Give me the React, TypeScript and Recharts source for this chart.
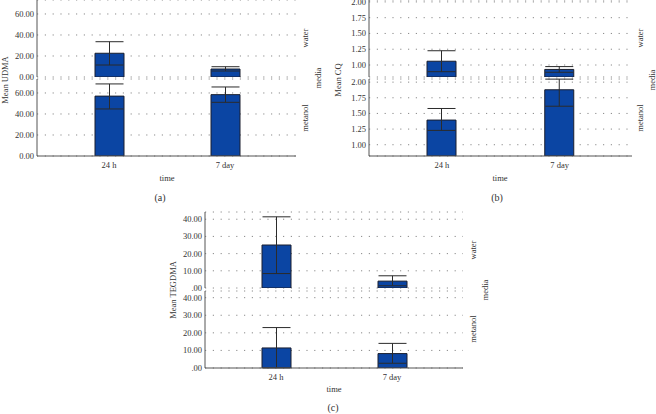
import React from 'react';
import { BarChart, Bar, XAxis, YAxis, CartesianGrid, ErrorBar } from 'recharts';

const CATEGORIES = ['24 h', '7 day'];

// UDMA (a)
const UDMA_WATER = [22.6, 7.6];
const UDMA_WATER_ERR = [[11.2, 11.0], [1.9, 2.2]];
const UDMA_METANOL = [57.0, 58.4];
const UDMA_METANOL_ERR = [[12.2, 11.6], [7.3, 7.3]];
const UDMA_TICKS = [0, 20, 40, 60];

// CQ (b)
const CQ_WATER = [1.06, 0.93];
const CQ_WATER_ERR = [[0.166, 0.166], [0.045, 0.045]];
const CQ_METANOL = [1.394, 1.878];
const CQ_METANOL_ERR = [[0.165, 0.185], [0.263, 0.17]];
const CQ_TICKS = [1.0, 1.25, 1.5, 1.75, 2.0];

// TEGDMA (c)
const TEGDMA_WATER = [25.0, 4.0];
const TEGDMA_WATER_ERR = [[16.6, 16.4], [2.7, 3.1]];
const TEGDMA_METANOL = [11.4, 8.2];
const TEGDMA_METANOL_ERR = [[11.4, 11.6], [5.5, 5.8]];
const TEGDMA_TICKS = [0, 10, 20, 30, 40];

const SERIF = '"Liberation Serif", "DejaVu Serif", serif';
const BAR_FILL = '#0b45a3';
const TEXT = '#333';

const fixed2 = (v: number) => v.toFixed(2);
const spss = (v: number) => (v === 0 ? '.00' : v.toFixed(2));

interface FacetProps {
  values: number[];
  errors: number[][];
  domain: [number, number];
  ticks: number[];
  fmt: (v: number) => string;
  axisX: number;
  right: number;
  top: number;
  bottom: number;
  padL: number;
  padR: number;
  showTicks?: boolean;
}

const Facet = ({ values, errors, domain, ticks, fmt, axisX, right, top, bottom, padL, padR, showTicks }: FacetProps) => {
  const yW = 40;
  const plotH = bottom - top;
  const xH = showTicks ? 22 : 0;
  const bottomPad = showTicks ? 0 : 7;
  const rows = CATEGORIES.map((c, i) => ({ time: c, mean: values[i], err: errors[i] }));
  return (
    <div style={{ position: 'absolute', left: axisX - yW, top: top - 10 }}>
      <BarChart
        width={right - axisX + yW + 10}
        height={10 + plotH + xH + bottomPad}
        data={rows}
        margin={{ top: 10, right: 10, left: 0, bottom: bottomPad }}
      >
        <CartesianGrid vertical={false} stroke="#8a8a8a" strokeDasharray="1.2 6.6" />
        <XAxis
          dataKey="time"
          height={xH}
          padding={{ left: padL, right: padR }}
          axisLine={{ stroke: '#555' }}
          tickLine={false}
          tickSize={0}
          tickMargin={6}
          tick={showTicks ? { fill: TEXT, fontSize: 8.5, fontFamily: SERIF } : false}
        />
        <YAxis
          type="number"
          width={yW}
          domain={domain}
          ticks={ticks}
          interval={0}
          allowDataOverflow
          tickFormatter={fmt}
          axisLine={{ stroke: '#555' }}
          tickLine={false}
          tickSize={0}
          tickMargin={3}
          tick={{ fill: TEXT, fontSize: 8.5, fontFamily: SERIF }}
        />
        <Bar dataKey="mean" fill={BAR_FILL} stroke="#1a1f2e" strokeWidth={1} barSize={29} isAnimationActive={false}>
          <ErrorBar dataKey="err" width={14} stroke="#2b2b2b" strokeWidth={1} direction="y" />
        </Bar>
      </BarChart>
    </div>
  );
};

const VLabel = ({ x, y, text, size = 8.5 }: { x: number; y: number; text: string; size?: number }) => (
  <text
    x={x}
    y={y}
    transform={`rotate(-90 ${x} ${y})`}
    textAnchor="middle"
    dominantBaseline="central"
    fontFamily={SERIF}
    fontSize={size}
    fill={TEXT}
  >
    {text}
  </text>
);

const HLabel = ({ x, y, text, size = 8.5 }: { x: number; y: number; text: string; size?: number }) => (
  <text x={x} y={y} textAnchor="middle" dominantBaseline="central" fontFamily={SERIF} fontSize={size} fill={TEXT}>
    {text}
  </text>
);

export default function App() {
  return (
    <div style={{ position: 'absolute', left: 0, top: 0, width: 656, height: 414, background: '#fff' }}>
      {/* (a) UDMA */}
      <Facet values={UDMA_WATER} errors={UDMA_WATER_ERR} domain={[0, 73.3]} ticks={UDMA_TICKS} fmt={fixed2}
        axisX={37} right={296} top={0} bottom={77} padL={14} padR={13} />
      <Facet values={UDMA_METANOL} errors={UDMA_METANOL_ERR} domain={[0, 73.3]} ticks={UDMA_TICKS} fmt={fixed2}
        axisX={37} right={296} top={79} bottom={156} padL={14} padR={13} showTicks />

      {/* (b) CQ */}
      <Facet values={CQ_WATER} errors={CQ_WATER_ERR} domain={[0.81, 2.03]} ticks={CQ_TICKS} fmt={fixed2}
        axisX={369} right={632} top={0} bottom={77} padL={14} padR={13.5} />
      <Facet values={CQ_METANOL} errors={CQ_METANOL_ERR} domain={[0.82, 2.05]} ticks={CQ_TICKS} fmt={fixed2}
        axisX={369} right={632} top={79} bottom={156} padL={14} padR={13.5} showTicks />

      {/* (c) TEGDMA */}
      <Facet values={TEGDMA_WATER} errors={TEGDMA_WATER_ERR} domain={[0, 44.2]} ticks={TEGDMA_TICKS} fmt={spss}
        axisX={205} right={463} top={212} bottom={288} padL={13} padR={13} />
      <Facet values={TEGDMA_METANOL} errors={TEGDMA_METANOL_ERR} domain={[0, 43.8]} ticks={TEGDMA_TICKS} fmt={spss}
        axisX={205} right={463} top={291} bottom={368} padL={13} padR={13} showTicks />

      <svg width={656} height={414} style={{ position: 'absolute', left: 0, top: 0, pointerEvents: 'none' }}>
        <VLabel x={5} y={80} text="Mean UDMA" />
        <VLabel x={305} y={38} text="water" />
        <VLabel x={318} y={78} text="media" />
        <VLabel x={305} y={118} text="metanol" />
        <HLabel x={167} y={178} text="time" />
        <HLabel x={160} y={197} text="(a)" size={10} />

        <VLabel x={338} y={80} text="Mean CQ" />
        <VLabel x={640} y={38} text="water" />
        <VLabel x={652} y={80} text="media" />
        <VLabel x={640} y={118} text="metanol" />
        <HLabel x={500} y={178} text="time" />
        <HLabel x={497} y={197} text="(b)" size={10} />

        <VLabel x={173} y={290} text="Mean TEGDMA" />
        <VLabel x={473} y={250} text="water" />
        <VLabel x={485} y={290} text="media" />
        <VLabel x={473} y={329} text="metanol" />
        <HLabel x={334} y={389} text="time" />
        <HLabel x={333} y={407} text="(c)" size={10} />
      </svg>
    </div>
  );
}
